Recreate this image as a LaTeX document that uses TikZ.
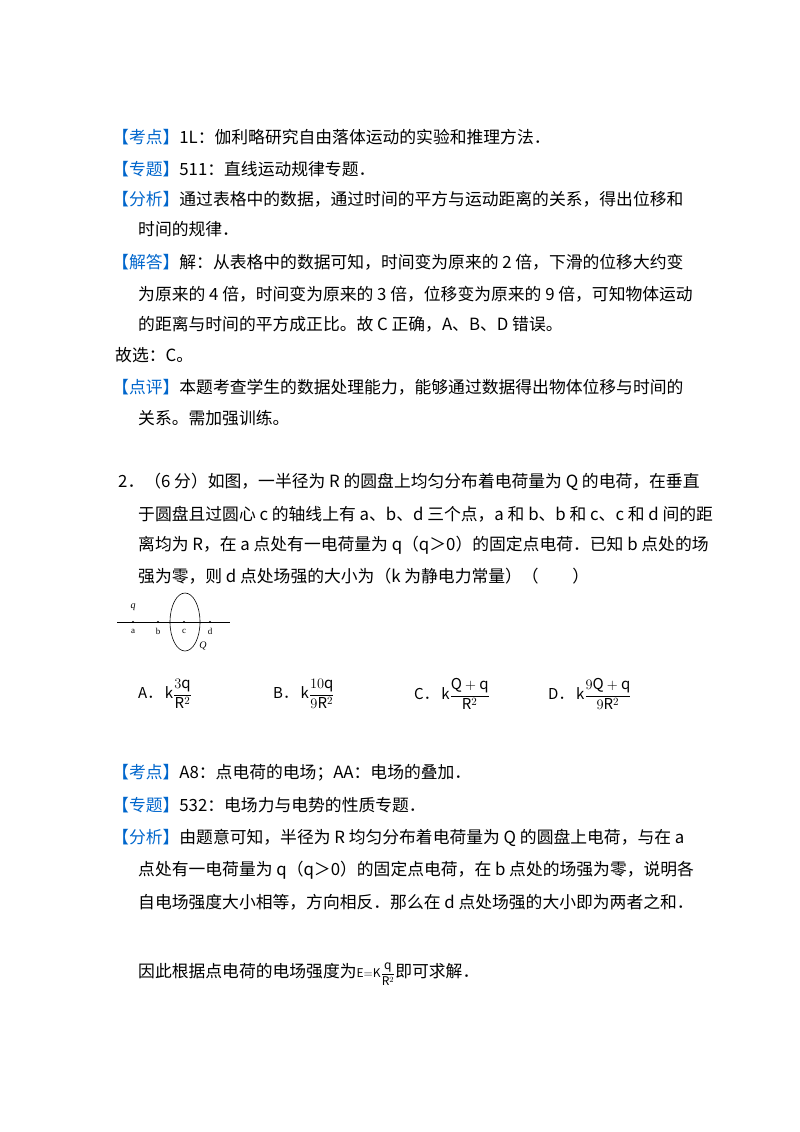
\documentclass[tikz,border=0pt]{standalone}
\usepackage{amsmath}
\usepackage{fontspec}
\setmainfont{Noto Sans CJK SC}
\newfontfamily\serifnum{Liberation Serif}
\definecolor{tagblue}{RGB}{0,102,204}
\begin{document}
\begin{tikzpicture}[x=1pt,y=-1pt,
  txt/.style={anchor=west,inner sep=0pt,font=\fontsize{16.8}{18}\selectfont},
  lbl/.style={inner sep=0pt,font=\serifnum\fontsize{9}{10}\selectfont},
  pt/.style={circle,fill=black,inner sep=0pt,minimum size=2.2pt},
  opt/.style={anchor=west,inner sep=0pt,font=\fontsize{15}{16}\selectfont}]
\useasboundingbox (0,0) rectangle (800,1132);
\newcommand{\tg}[1]{\textcolor{tagblue}{【#1】}}
\node[txt] (l1) at (112,137) {\tg{考点}1L：伽利略研究自由落体运动的实验和推理方法．};
\node[txt] (l2) at (112,169) {\tg{专题}511：直线运动规律专题．};
\node[txt] (l3) at (112,199) {\tg{分析}通过表格中的数据，通过时间的平方与运动距离的关系，得出位移和};
\node[txt] (l4) at (138,229) {时间的规律．};
\node[txt] (l5) at (112,262) {\tg{解答}解：从表格中的数据可知，时间变为原来的 2 倍，下滑的位移大约变};
\node[txt] (l6) at (138,294) {为原来的 4 倍，时间变为原来的 3 倍，位移变为原来的 9 倍，可知物体运动};
\node[txt] (l7) at (138,324) {的距离与时间的平方成正比。故 C 正确，A、B、D 错误。};
\node[txt] (l8) at (115,355) {故选：C。};
\node[txt] (l9) at (112,387) {\tg{点评}本题考查学生的数据处理能力，能够通过数据得出物体位移与时间的};
\node[txt] (l10) at (138,418) {关系。需加强训练。};
\node[txt] (q1) at (118,482) {2．（6 分）如图，一半径为 R 的圆盘上均匀分布着电荷量为 Q 的电荷，在垂直};
\node[txt] (q2) at (138,514) {于圆盘且过圆心 c 的轴线上有 a、b、d 三个点，a 和 b、b 和 c、c 和 d 间的距};
\node[txt] (q3) at (138,545) {离均为 R，在 a 点处有一电荷量为 q（q＞0）的固定点电荷．已知 b 点处的场};
\node[txt] (q4) at (138,576) {强为零，则 d 点处场强的大小为（k 为静电力常量）（\quad\quad）};
% diagram
\coordinate (L) at (117,622); \coordinate (R) at (230,622);
\draw[line width=0.6pt] (L) -- (R);
\draw[line width=0.6pt] (185,622) ellipse (15 and 29);
\node[pt] (a) at (133,622) {}; \node[pt] (b) at (158,622) {};
\node[pt] (c) at (184,622) {}; \node[pt] (d) at (210,622) {};
\node[lbl] at (133,631) {a}; \node[lbl] at (158,631) {b};
\node[lbl] at (184,631) {c}; \node[lbl] at (210,631) {d};
\node[lbl,font=\serifnum\itshape\fontsize{10}{10}\selectfont] (qq) at (133,607) {q};
\node[lbl,font=\serifnum\itshape\fontsize{10}{10}\selectfont] (QQ) at (203,646) {Q};
% options
\node[opt] (oa) at (138,694) {A．\,$\mathrm{k}\dfrac{3\mathrm{q}}{\mathrm{R}^2}$};
\node[opt] (ob) at (273,694) {B．\,$\mathrm{k}\dfrac{10\mathrm{q}}{9\mathrm{R}^2}$};
\node[opt] (oc) at (414,694) {C．\,$\mathrm{k}\dfrac{\mathrm{Q+q}}{\mathrm{R}^2}$};
\node[opt] (od) at (548,694) {D．\,$\mathrm{k}\dfrac{9\mathrm{Q+q}}{9\mathrm{R}^2}$};
\node[txt] (s1) at (112,773) {\tg{考点}A8：点电荷的电场；AA：电场的叠加．};
\node[txt] (s2) at (112,805) {\tg{专题}532：电场力与电势的性质专题．};
\node[txt] (s3) at (112,838) {\tg{分析}由题意可知，半径为 R 均匀分布着电荷量为 Q 的圆盘上电荷，与在 a};
\node[txt] (s4) at (138,870) {点处有一电荷量为 q（q＞0）的固定点电荷，在 b 点处的场强为零，说明各};
\node[txt] (s5) at (138,902) {自电场强度大小相等，方向相反．那么在 d 点处场强的大小即为两者之和．};
\node[txt] (s6) at (138,974) {因此根据点电荷的电场强度为{\fontsize{12}{12}\selectfont$\mathrm{E{=}K}\dfrac{\mathrm{q}}{\mathrm{R}^2}$}即可求解．};
\end{tikzpicture}
\end{document}
